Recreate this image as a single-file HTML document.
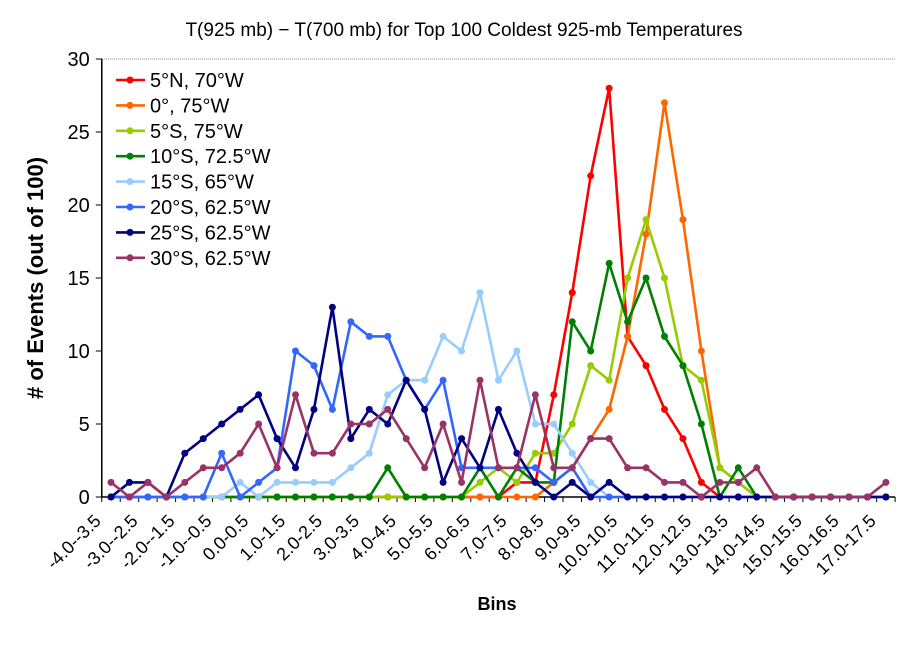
<!DOCTYPE html>
<html><head><meta charset="utf-8"><style>
body{margin:0;background:#fff;}
svg{display:block;font-family:"Liberation Sans",Arial,sans-serif;}
</style></head><body>
<svg id="chart" width="911" height="655">
<text x="464" y="36" text-anchor="middle" font-size="19">T(925 mb) − T(700 mb) for Top 100 Coldest 925-mb Temperatures</text>
<text transform="translate(43,278) rotate(-90)" text-anchor="middle" font-size="22" font-weight="bold"># of Events (out of 100)</text>
<text x="497" y="610" text-anchor="middle" font-size="18" font-weight="bold">Bins</text>
<g id="axes"></g><g id="series"></g><g id="legend"></g>
</svg>
<script>
const categories=[-4.0,-3.5,-3.0,-2.5,-2.0,-1.5,-1.0,-0.5,0.0,0.5,1.0,1.5,2.0,2.5,3.0,3.5,4.0,4.5,5.0,5.5,6.0,6.5,7.0,7.5,8.0,8.5,9.0,9.5,10.0,10.5,11.0,11.5,12.0,12.5,13.0,13.5,14.0,14.5,15.0,15.5,16.0,16.5,17.0];
const yTicks=[0,5,10,15,20,25,30];
const seriesNames=["5°N, 70°W","0°, 75°W","5°S, 75°W","10°S, 72.5°W","15°S, 65°W","20°S, 62.5°W","25°S, 62.5°W","30°S, 62.5°W"];
const seriesColors=["#ff0000","#ff6600","#99cc00","#008000","#99ccff","#3366ff","#000080","#993366"];
const s5N=[0,0,0,0,0,0,0,0,0,0,0,0,0,0,0,0,0,0,0,0,0,0,1,1,7,14,22,28,11,9,6,4,1,0,0,0,0,0,0,0,0,0,0];
const s0=[0,0,0,0,0,0,0,0,0,0,0,0,0,0,0,0,0,0,0,0,0,0,0,0,1,2,4,6,11,18,27,19,10,2,1,0,0,0,0,0,0,0,0];
const s5S=[0,0,0,0,0,0,0,0,0,0,0,0,0,0,0,0,0,0,0,0,1,2,1,3,3,5,9,8,15,19,15,9,8,2,1,0,0,0,0,0,0,0,0];
const s10S=[0,0,0,0,0,0,0,0,0,0,0,0,0,0,0,2,0,0,0,0,2,0,2,1,1,12,10,16,12,15,11,9,5,0,2,0,0,0,0,0,0,0,0];
const s15S=[0,0,0,0,0,0,0,1,0,1,1,1,1,2,3,7,8,8,11,10,14,8,10,5,5,3,1,0,0,0,0,0,0,0,0,0,0,0,0,0,0,0,0];
const s20S=[0,0,0,0,0,0,3,0,1,2,10,9,6,12,11,11,8,6,8,2,2,2,2,2,1,2,0,0,0,0,0,0,0,0,0,0,0,0,0,0,0,0,0];
const s25S=[0,1,1,0,3,4,5,6,7,4,2,6,13,4,6,5,8,6,1,4,2,6,3,1,0,1,0,1,0,0,0,0,0,0,0,0,0,0,0,0,0,0,0];
const s30S=[1,0,1,0,1,2,2,3,5,2,7,3,3,5,5,6,4,2,5,1,8,2,2,7,2,2,4,4,2,2,1,1,0,1,1,2,0,0,0,0,0,0,1];
const allSeries=[s5N,s0,s5S,s10S,s15S,s20S,s25S,s30S];

const NS="http://www.w3.org/2000/svg";
const X0=111, DX=18.45, Y0=497, PY=14.6;
function xs(i){return X0+DX*i;}
function ys(v){return Y0-v*PY;}
function mk(tag,attrs,parent){const e=document.createElementNS(NS,tag);for(const k in attrs)e.setAttribute(k,attrs[k]);parent.appendChild(e);return e;}
const axes=document.getElementById('axes');
const n=categories.length;
const left=xs(-0.5), right=xs(n-0.5);
const gl=mk('line',{x1:left,x2:right,y1:ys(30),y2:ys(30),stroke:'#888','stroke-dasharray':'1,1'},axes);


const ya=mk('line',{x1:left,x2:left,y1:ys(30),y2:Y0,stroke:'#000','stroke-width':1.5},axes);


const xa=mk('line',{x1:left,x2:right,y1:Y0,y2:Y0,stroke:'#000','stroke-width':1.5},axes);


yTicks.forEach(v=>{
  const t=mk('line',{x1:left-6,x2:left,y1:ys(v),y2:ys(v),stroke:'#000'},axes);
  
  
  const l=mk('text',{x:left-12,y:ys(v)+7,'text-anchor':'end','font-size':20},axes);
  l.textContent=v;
  
  
});
for(let i=0;i<=n;i++){
  const t=mk('line',{x1:xs(i-0.5),x2:xs(i-0.5),y1:Y0,y2:Y0+5,stroke:'#000'},axes);
  
  
}
function fmt(v){return v.toFixed(1);}
categories.forEach((c,i)=>{
  if(i%2!==0)return;
  const x=xs(i)-9, y=Y0+25;
  const l=mk('text',{x:x,y:y,'text-anchor':'end','font-size':18,transform:`rotate(-45 ${x} ${y})`},axes);
  l.textContent=fmt(c)+'-'+fmt(c+0.5);
  
  
});
const sg=document.getElementById('series');
allSeries.forEach((arr,si)=>{
  const g=mk('g',{},sg);
  
  
  const pts=arr.map((v,i)=>xs(i)+','+ys(v)).join(' ');
  const pl=mk('polyline',{points:pts,fill:'none',stroke:seriesColors[si],'stroke-width':2.6,'stroke-linejoin':'round'},g);
  
  
  arr.forEach((v,i)=>{
    const c=mk('circle',{cx:xs(i),cy:ys(v),r:3.5,fill:seriesColors[si]},g);
    
    
  });
});
const lg=document.getElementById('legend');
seriesNames.forEach((name,si)=>{
  const y=80+si*25.4;
  const g=mk('g',{},lg);
  
  
  mk('line',{x1:116,x2:145,y1:y,y2:y,stroke:seriesColors[si],'stroke-width':2.6},g);
  mk('circle',{cx:130,cy:y,r:3.5,fill:seriesColors[si]},g);
  const t=mk('text',{x:150,y:y+7,'font-size':20},g);
  t.textContent=name;
});
</script>
</body></html>
